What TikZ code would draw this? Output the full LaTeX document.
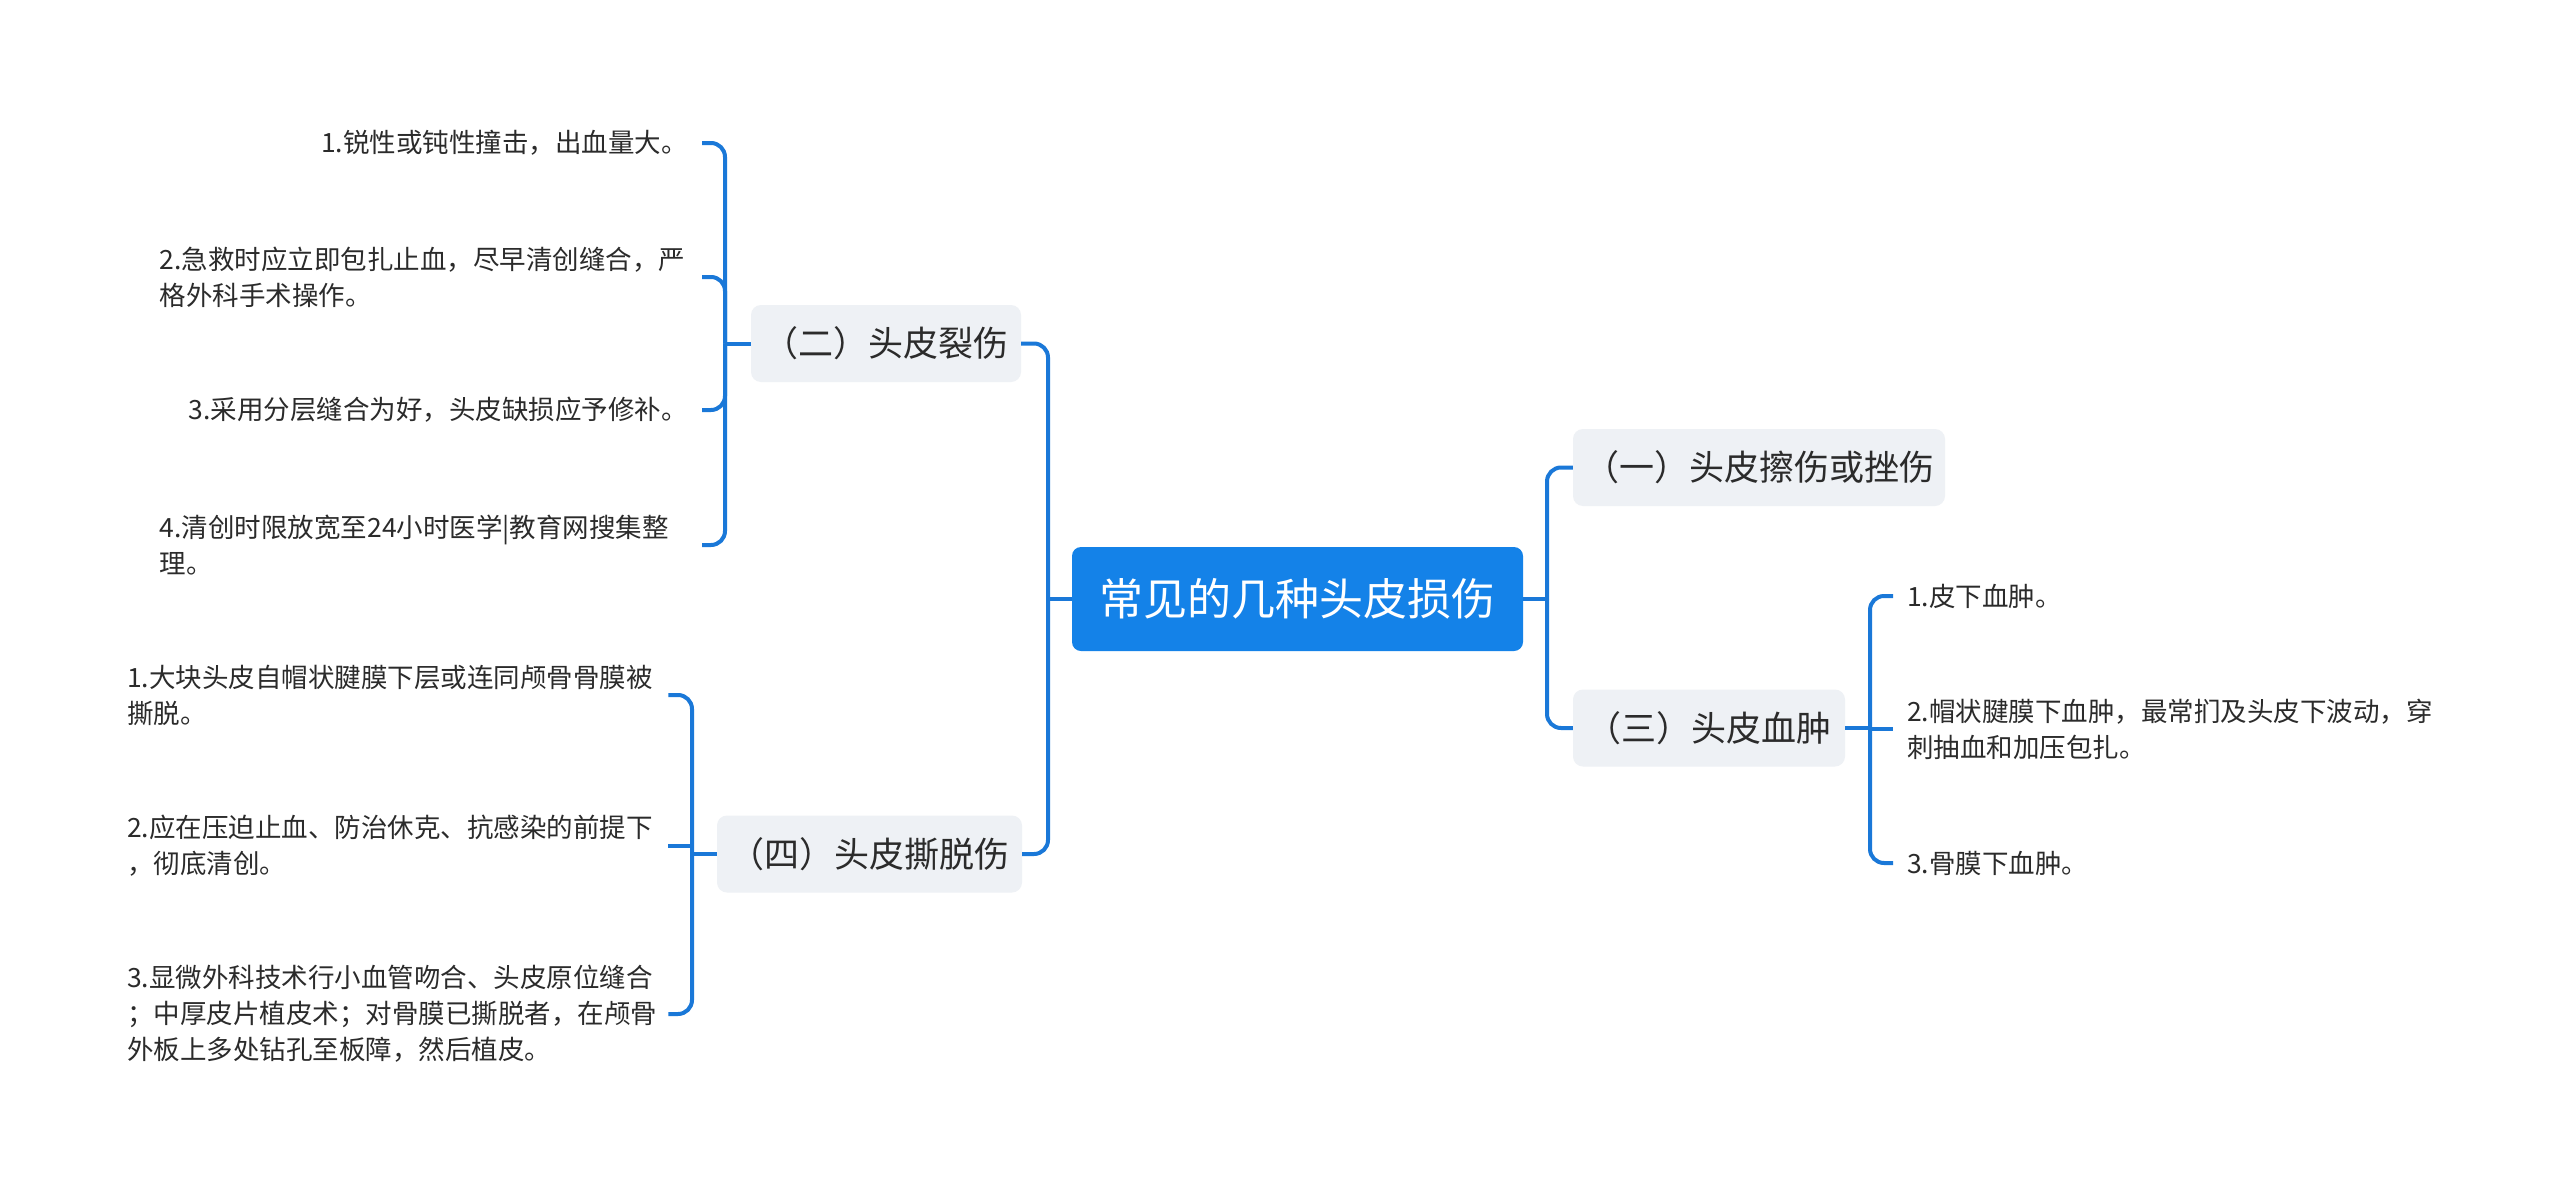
\documentclass[tikz,border=0pt]{standalone}
\usepackage{fontspec}
\setmainfont{Noto Sans CJK SC}
\definecolor{rootblue}{HTML}{1482E8}
\definecolor{linkblue}{HTML}{1A78D8}
\definecolor{subfill}{HTML}{EEF1F5}
\definecolor{txt}{HTML}{2B2B2B}
\begin{document}
\begin{tikzpicture}[x=1pt,y=-1pt,
  rootbox/.style={fill=rootblue, rounded corners=9pt, minimum width=451pt, minimum height=104pt, text=white, font=\fontsize{44}{52}\selectfont, inner sep=0pt},
  topic/.style={fill=subfill, rounded corners=10pt, minimum height=77pt, text=txt, font=\fontsize{35}{42}\selectfont, inner sep=0pt},
  leaf/.style={text=txt, font=\fontsize{26.5}{36}\selectfont, align=left, inner xsep=14pt, inner ysep=0pt},
  conn/.style={draw=linkblue, line width=4pt},
  elbow/.style={conn, rounded corners=14pt}]
\useasboundingbox (0,0) rectangle (2560,1191);
\fill[white] (0,0) rectangle (2560,1191);

\node[rootbox] (root) at (1297.5,599) {常见的几种头皮损伤};
\node[topic, minimum width=270pt] (t2) at (886,343.5) {（二）头皮裂伤};
\node[topic, minimum width=305pt] (t4) at (869.5,854) {（四）头皮撕脱伤};
\node[topic, minimum width=372pt] (t1) at (1759,467.5) {（一）头皮擦伤或挫伤};
\node[topic, minimum width=272pt] (t3) at (1709,728) {（三）头皮血肿};

\node[leaf, anchor=east] (a1) at (702,143) {1.锐性或钝性撞击，出血量大。};
\node[leaf, anchor=east, text width=528pt] (a2) at (702,277) {2.急救时应立即包扎止血，尽早清创缝合，严\\格外科手术操作。};
\node[leaf, anchor=east] (a3) at (702,410) {3.采用分层缝合为好，头皮缺损应予修补。};
\node[leaf, anchor=east, text width=528pt] (a4) at (702,545) {4.清创时限放宽至24小时医学|教育网搜集整\\理。};

\node[leaf, anchor=west, text width=527pt] (b1) at (113,695) {1.大块头皮自帽状腱膜下层或连同颅骨骨膜被\\撕脱。};
\node[leaf, anchor=west, text width=527pt] (b2) at (113,846) {2.应在压迫止血、防治休克、抗感染的前提下\\，彻底清创。};
\node[leaf, anchor=west, text width=527pt] (b3) at (113,1014) {3.显微外科技术行小血管吻合、头皮原位缝合\\；中厚皮片植皮术；对骨膜已撕脱者，在颅骨\\外板上多处钻孔至板障，然后植皮。};

\node[leaf, anchor=west] (c1) at (1893,596) {1.皮下血肿。};
\node[leaf, anchor=west] (c2) at (1893,729) {2.帽状腱膜下血肿，最常扪及头皮下波动，穿\\刺抽血和加压包扎。};
\node[leaf, anchor=west] (c3) at (1893,863) {3.骨膜下血肿。};

\coordinate (sL) at (1048,599);
\coordinate (sR) at (1547,599);
\draw[conn] (root.west) -- (sL);
\draw[elbow] (sL) |- (t2.east);
\draw[elbow] (sL) |- (t4.east);
\draw[conn] (root.east) -- (sR);
\draw[elbow] (sR) |- (t1.west);
\draw[elbow] (sR) |- (t3.west);

\coordinate (s2) at (725,343.5);
\draw[conn] (t2.west) -- (s2);
\foreach \n in {a1,a2,a3,a4} \draw[elbow] (s2) |- (\n.east);

\coordinate (s4) at (692,854);
\draw[conn] (t4.west) -- (s4);
\draw[elbow] (s4) |- (b1.east);
\draw[conn] (s4) |- (b2.east);
\draw[elbow] (s4) |- (b3.east);

\coordinate (s3) at (1870,728);
\draw[conn] (t3.east) -- (s3);
\draw[elbow] (s3) |- (c1.west);
\draw[conn] (s3) |- (c2.west);
\draw[elbow] (s3) |- (c3.west);
\end{tikzpicture}
\end{document}
